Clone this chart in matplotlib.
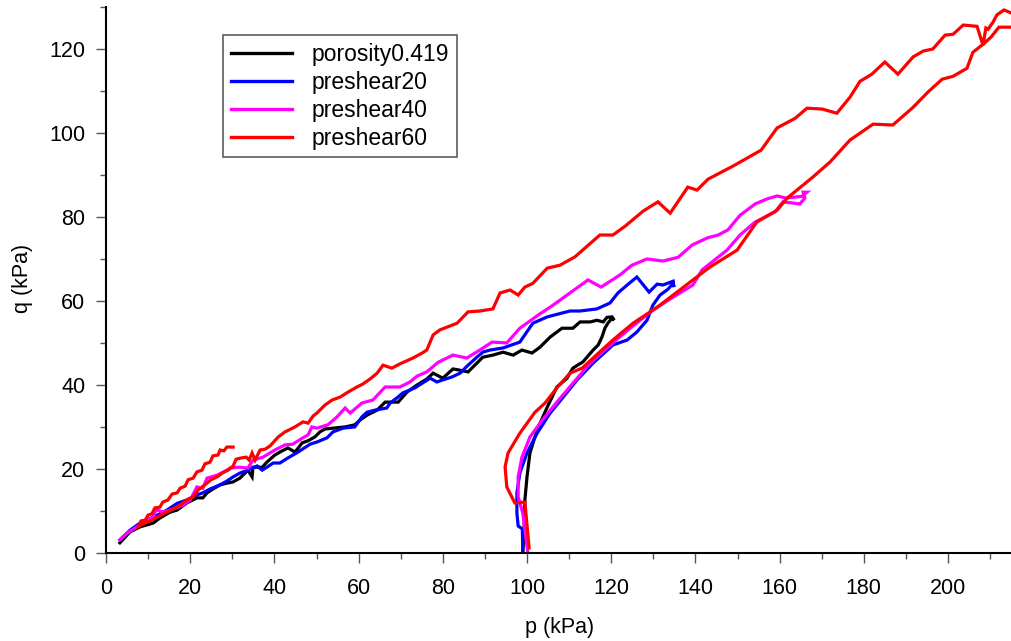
import matplotlib
matplotlib.use("Agg")
import matplotlib.pyplot as plt
from matplotlib.ticker import MultipleLocator

plt.rcParams['font.family'] = ['Liberation Sans', 'DejaVu Sans']

labels = ["porosity0.419", "preshear20", "preshear40", "preshear60"]
colors = ["#000000", "#0000FF", "#FF00FF", "#FF0000"]

black_p = [99.0, 99.3, 99.5, 100.0, 100.7, 102.4, 104.8, 107.1, 109.5, 110.9, 113.3, 115.7, 116.9, 117.8, 118.5, 119.2, 120.2, 120.7, 120.2,
           119.0, 118.1, 116.6, 115.0, 112.6, 110.9, 108.3, 105.5, 103.1, 101.2, 98.8, 96.7, 94.3, 91.9, 89.5, 87.6, 86.0, 83.6, 82.4, 80.0,
           77.7, 76.2, 73.9, 71.5, 69.4, 66.3, 64.4, 62.0, 60.3, 59.1, 56.8, 53.9, 52.0, 50.8, 49.6, 48.0, 46.6, 44.9, 43.2, 41.3, 40.1,
           38.2, 37.1, 34.9, 34.7, 33.7, 31.8, 30.2, 28.7, 27.1, 25.4, 24.0, 23.0, 21.6, 19.2, 16.9, 15.2, 12.8, 11.2, 8.1, 5.7, 3.3]
black_q = [0.1, 5.5, 12.7, 18.2, 23.9, 29.4, 34.8, 39.6, 41.7, 44.1, 45.6, 48.4, 49.6, 51.5, 53.6, 54.8, 56.0, 55.5, 56.3,
           56.2, 55.1, 55.5, 55.1, 55.1, 53.6, 53.6, 51.5, 49.1, 47.7, 48.4, 47.2, 47.9, 47.2, 46.7, 44.8, 43.2, 43.7, 43.9, 41.7,
           42.9, 41.5, 40.1, 38.4, 36.0, 36.0, 34.1, 32.9, 31.7, 30.6, 30.1, 29.8, 29.6, 28.9, 27.7, 26.8, 26.3, 24.1, 25.1, 24.1, 23.4,
           21.7, 20.5, 20.5, 18.2, 19.8, 17.9, 17.0, 16.7, 16.3, 15.3, 14.4, 13.2, 13.2, 12.0, 10.3, 9.8, 8.4, 7.2, 6.3, 5.1, 2.5]

blue_p = [99.0, 98.9, 97.9, 97.6, 97.6, 98.3, 100.0, 102.4, 105.5, 108.6, 111.9, 115.7, 120.4, 123.8, 126.1, 128.5, 129.9, 131.6, 133.5, 134.7, 134.9, 134.7,
          132.3, 130.9, 129.0, 126.1, 123.8, 121.6, 119.7, 116.6, 112.6, 110.2, 104.8, 101.4, 98.3, 94.3, 91.2, 89.5, 88.1, 86.0, 84.1, 82.2,
          80.0, 78.6, 77.0, 75.1, 73.4, 70.5, 69.1, 67.5, 66.7, 63.9, 62.0, 60.8, 59.1, 56.3, 53.9, 52.5, 50.1, 48.5, 45.6, 43.2, 41.3,
          39.7, 38.2, 37.1, 35.9, 33.7, 31.8, 30.2, 28.7, 27.1, 24.7, 23.0, 21.6, 19.2, 16.9, 14.5, 11.2, 8.1, 5.7, 3.3]
blue_q = [0.1, 5.8, 6.5, 9.6, 14.4, 19.1, 23.9, 28.6, 33.4, 37.2, 41.3, 45.3, 49.6, 50.8, 52.7, 55.5, 59.1, 61.5, 62.9, 64.3, 63.4, 64.8,
          63.9, 64.1, 62.2, 65.8, 63.9, 62.0, 59.6, 58.2, 57.7, 57.7, 56.3, 54.8, 50.3, 48.9, 48.4, 47.9, 46.7, 44.8, 42.9, 42.0,
          41.3, 40.8, 41.7, 40.5, 39.4, 38.2, 37.0, 35.8, 34.6, 34.1, 33.6, 32.5, 30.1, 29.8, 28.9, 27.5, 26.5, 26.0, 24.1, 22.7, 21.5,
          21.5, 20.5, 19.8, 20.8, 19.8, 19.1, 18.2, 17.2, 16.3, 15.3, 14.4, 13.9, 12.7, 11.9, 10.3, 8.6, 7.2, 5.5, 3.2]

magenta_p = [100.2, 99.8, 99.0, 97.9, 97.9, 98.8, 100.7, 103.6, 107.1, 110.9, 115.0, 119.2, 124.0, 129.9, 134.4, 139.4, 141.6, 147.5, 150.6, 154.2,
             158.9, 160.8, 164.8, 166.0, 165.6, 166.5, 165.3, 161.5, 159.4,
             157.0, 154.2, 150.6, 147.7, 145.4, 142.8, 139.2, 135.9, 132.3, 128.5, 124.9, 122.1, 117.6, 114.5, 110.2, 106.2, 102.6, 98.3,
             95.2, 91.7, 88.8, 85.7, 82.4, 78.9, 76.2, 73.9, 72.2, 69.8, 66.3, 63.4, 60.8, 58.0, 56.8, 54.9, 52.7, 50.1, 48.9, 48.0, 46.6,
             44.4, 42.5, 40.1, 37.3, 34.9, 33.7, 31.8, 29.5, 28.7, 26.4, 24.0, 23.0, 21.6, 20.0, 18.3, 15.9, 13.5, 11.9, 11.2, 9.7, 7.4, 5.0, 3.3]
magenta_q = [0.1, 3.2, 9.6, 13.4, 18.2, 22.9, 27.7, 31.7, 36.0, 40.5, 45.3, 49.1, 53.2, 57.9, 60.8, 63.9, 67.5, 72.2, 75.8, 78.9,
             81.3, 83.7, 83.2, 84.6, 86.0, 86.0, 85.0, 84.6, 85.1,
             84.4, 83.2, 80.5, 77.0, 75.8, 75.1, 73.4, 70.5, 69.6, 70.1, 68.6, 66.3, 63.4, 65.1, 62.0, 59.1, 56.7, 53.6,
             50.1, 50.3, 48.4, 46.5, 47.2, 45.5, 43.2, 42.2, 40.8, 39.6, 39.6, 36.5, 35.8, 33.4, 34.6, 32.5, 30.6, 29.8, 30.1, 28.2, 27.4,
             26.0, 25.8, 24.6, 22.9, 22.2, 20.3, 20.5, 20.3, 19.8, 18.6, 17.9, 15.5, 15.8, 12.7, 11.5, 10.5, 9.8, 10.4, 8.6, 7.9, 6.3, 4.8, 3.2]

red_p = [100.5, 99.5, 97.1, 95.2, 94.8, 95.5, 98.3, 101.9, 104.3, 107.1, 110.2, 113.1, 115.7, 120.4, 125.2, 130.9, 136.3, 139.4, 143.5,
         149.9, 154.6, 159.4, 161.8, 167.9, 172.0, 176.7, 182.2, 186.9, 191.7, 195.2, 198.6, 201.2, 204.5, 205.9, 208.3, 210.2, 212.1,
         215.9, 216.6, 215.2,
         213.3, 211.6, 210.7, 209.5, 209.0, 208.3, 206.9, 203.6, 201.2, 199.3, 196.4, 194.1, 191.7, 188.1, 185.0, 181.9, 179.1, 176.7,
         173.6, 170.1, 166.5, 163.7, 159.4, 155.6, 148.9, 143.0, 140.4, 138.2, 134.0, 131.1, 127.6, 123.3, 120.4, 117.3, 111.4, 107.8,
         104.8, 101.4, 99.5, 97.9, 96.0, 93.6, 91.9, 88.8, 86.0, 83.4, 79.3, 77.7, 76.2, 75.1, 72.9, 69.8, 67.9, 65.8, 64.4, 62.7, 61.0,
         59.6, 57.5, 55.6, 53.7, 52.0, 50.1, 49.2, 48.0, 46.8, 44.9, 42.5, 40.9, 39.0, 37.8, 36.6, 35.4, 34.7, 34.0, 33.3, 32.1, 30.9,
         30.2, 29.0, 27.6, 26.4, 24.9, 23.5, 21.9, 20.7, 19.5, 17.6, 15.9, 14.0, 12.1, 10.5, 8.8, 7.8,
         8.3, 9.3, 10.0, 10.9, 11.6, 12.8, 13.5, 14.7, 15.7, 16.9, 17.6, 18.8, 19.5, 20.7, 21.6, 22.8, 23.5, 24.7, 25.4, 26.6, 27.1,
         28.0, 28.7, 30.2]
red_q = [1.3, 12.2, 12.0, 15.8, 20.6, 23.9, 28.6, 33.6, 35.8, 39.4, 42.9, 44.1, 46.5, 50.8, 54.8, 58.6, 62.7, 65.1, 68.2,
         72.2, 78.9, 81.7, 84.6, 89.6, 93.2, 98.4, 102.2, 102.0, 106.2, 109.8, 112.9, 113.6, 115.5, 119.3, 121.2, 122.9, 125.3,
         125.3, 127.5, 128.6,
         129.4, 128.2, 126.5, 124.8, 125.1, 121.0, 125.5, 125.8, 123.6, 123.4, 120.1, 119.6, 118.2, 114.1, 117.0, 114.1, 112.4, 108.6,
         104.8, 105.8, 106.0, 103.6, 101.3, 96.0, 92.2, 89.1, 86.5, 87.2, 81.0, 83.7, 81.5, 77.9, 75.8, 75.8, 70.6, 68.6,
         67.9, 64.3, 63.4, 61.5, 62.7, 62.0, 58.2, 57.7, 57.5, 54.8, 53.2, 52.0, 48.4, 47.7, 46.5, 45.1, 44.1, 44.8, 42.9, 41.5, 40.3,
         39.6, 38.4, 37.2, 36.5, 35.3, 33.4, 32.7, 31.0, 31.3, 30.1, 28.9, 27.7, 25.6, 24.8, 24.6, 22.2, 23.9, 22.2, 22.9, 22.7, 22.4,
         20.8, 19.8, 19.1, 18.2, 17.5, 16.3, 15.1, 13.4, 12.9, 11.5, 10.5, 9.6, 8.6, 7.7, 7.0, 6.5,
         7.7, 7.9, 9.1, 9.4, 10.8, 11.0, 12.2, 12.7, 14.1, 14.4, 15.5, 16.0, 17.5, 17.9, 19.4, 19.8, 21.3, 21.7, 23.2, 23.4, 24.6,
         24.4, 25.3, 25.3]

series = [(black_p, black_q), (blue_p, blue_q), (magenta_p, magenta_q), (red_p, red_q)]

fig = plt.figure(figsize=(10.12, 6.41), dpi=100)
ax = fig.add_axes([106/1012, 1 - 553.3/641, (1012 - 106)/1012, (553.3 - 7)/641])

for (p, q), c, lab in zip(series, colors, labels):
    ax.plot(p, q, color=c, lw=2.3, label=lab, solid_joinstyle='miter')

ax.set_xlim(0, 215.2)
ax.set_ylim(0, 130.1)
ax.xaxis.set_major_locator(MultipleLocator(20))
ax.xaxis.set_minor_locator(MultipleLocator(10))
ax.yaxis.set_major_locator(MultipleLocator(20))
ax.yaxis.set_minor_locator(MultipleLocator(10))

for s in ['top', 'right']:
    ax.spines[s].set_visible(False)
for s in ['left', 'bottom']:
    ax.spines[s].set_linewidth(1.5)
    ax.spines[s].set_color('black')

ax.tick_params(which='major', direction='out', length=7, width=1, color='#555555', labelsize=15.5, labelcolor='black')
ax.tick_params(axis='x', which='major', pad=11)
ax.tick_params(axis='y', which='major', pad=8)
ax.tick_params(which='minor', direction='out', length=4, width=1, color='#555555')

ax.set_xlabel("p (kPa)", fontsize=15.5)
ax.set_ylabel("q (kPa)", fontsize=15.5)
ax.xaxis.set_label_coords((560 - 106)/906, (553.3 - 617)/546.3)
ax.yaxis.set_label_coords((33 - 106)/906, (553.3 - 278)/546.3)

leg = ax.legend(loc='upper left', bbox_to_anchor=(223/1012, 1 - 35/641), bbox_transform=fig.transFigure,
                fontsize=16.5, frameon=True, fancybox=False, shadow=False, handlelength=2.7, handletextpad=0.85,
                labelspacing=0.22, borderpad=0.33, borderaxespad=0)
leg.get_frame().set_edgecolor('#333333')
leg.get_frame().set_linewidth(1.2)
for l in leg.get_lines():
    l.set_linewidth(2.4)

fig.savefig("out.png", dpi=100)
